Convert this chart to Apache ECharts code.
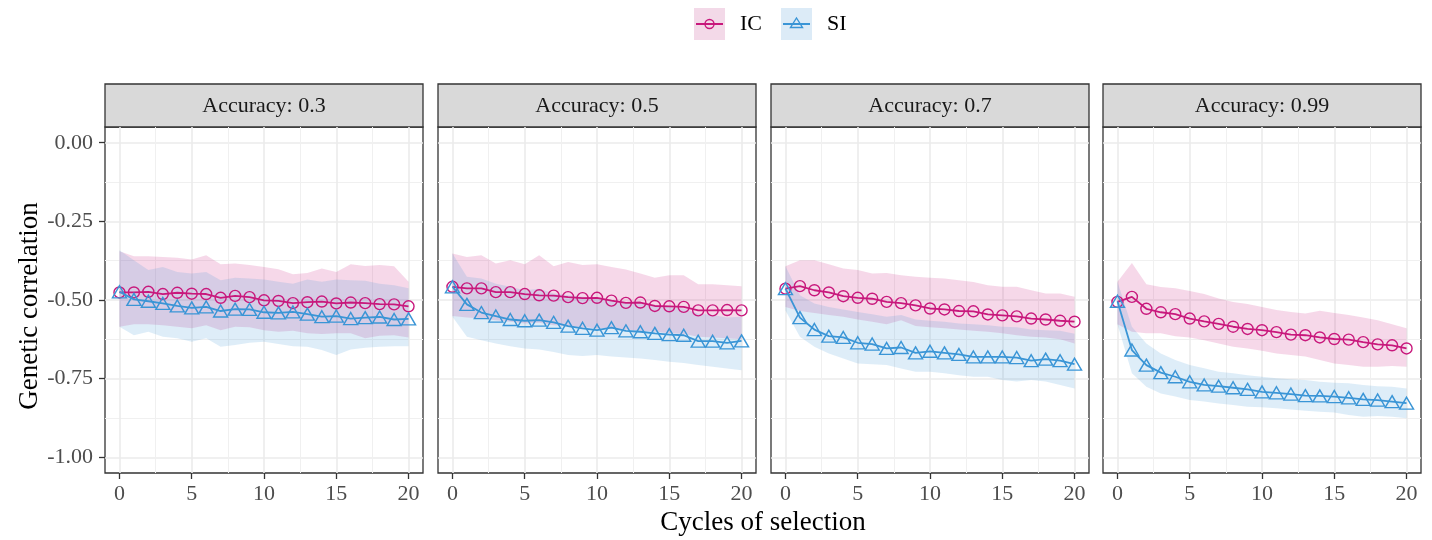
<!DOCTYPE html>
<html>
<head>
    <meta charset="utf-8">
    <title>Genetic correlation</title>
    <script src="https://cdn.jsdelivr.net/npm/echarts@6/dist/echarts.min.js"></script>
    <style>
        html, body { margin: 0; padding: 0; background: #fff; }
        #chart { width: 1432px; height: 540px; }
    </style>
</head>
<body>
<div id="chart"></div>
<script>
// cycles of selection
var cycles = [0,1,2,3,4,5,6,7,8,9,10,11,12,13,14,15,16,17,18,19,20];
var xTicks = [0, 5, 10, 15, 20];
var xMinor = [2.5, 7.5, 12.5, 17.5];
var yTicks = [-1, -0.75, -0.5, -0.25, 0];
var yMinor = [-0.875, -0.625, -0.375, -0.125];
var panelLabels = ['Accuracy: 0.3', 'Accuracy: 0.5', 'Accuracy: 0.7', 'Accuracy: 0.99'];

// accuracy 0.3
var ic03 = [-0.476,-0.476,-0.474,-0.481,-0.477,-0.480,-0.481,-0.493,-0.487,-0.491,-0.501,-0.503,-0.510,-0.507,-0.505,-0.511,-0.508,-0.510,-0.513,-0.514,-0.520];
var si03 = [-0.474,-0.498,-0.504,-0.511,-0.519,-0.525,-0.522,-0.535,-0.529,-0.530,-0.539,-0.541,-0.538,-0.545,-0.553,-0.551,-0.559,-0.556,-0.554,-0.562,-0.560];
var ic03Hi = [-0.345,-0.361,-0.361,-0.363,-0.366,-0.371,-0.358,-0.386,-0.384,-0.389,-0.395,-0.402,-0.418,-0.414,-0.400,-0.411,-0.386,-0.392,-0.389,-0.393,-0.442];
var ic03Lo = [-0.585,-0.577,-0.577,-0.580,-0.585,-0.590,-0.580,-0.596,-0.585,-0.587,-0.596,-0.601,-0.598,-0.606,-0.608,-0.606,-0.606,-0.622,-0.614,-0.612,-0.619];
var si03Hi = [-0.342,-0.374,-0.405,-0.395,-0.411,-0.416,-0.411,-0.437,-0.429,-0.432,-0.435,-0.442,-0.448,-0.435,-0.442,-0.435,-0.437,-0.439,-0.448,-0.453,-0.463];
var si03Lo = [-0.585,-0.612,-0.601,-0.617,-0.622,-0.633,-0.622,-0.649,-0.643,-0.636,-0.633,-0.640,-0.647,-0.649,-0.659,-0.675,-0.657,-0.652,-0.649,-0.647,-0.647];

// accuracy 0.5
var ic05 = [-0.458,-0.463,-0.463,-0.475,-0.475,-0.481,-0.485,-0.486,-0.491,-0.494,-0.493,-0.502,-0.509,-0.508,-0.519,-0.520,-0.522,-0.533,-0.533,-0.532,-0.533];
var si05 = [-0.458,-0.514,-0.540,-0.551,-0.562,-0.566,-0.564,-0.571,-0.583,-0.590,-0.596,-0.588,-0.598,-0.601,-0.606,-0.610,-0.612,-0.631,-0.631,-0.636,-0.630];
var ic05Hi = [-0.352,-0.363,-0.358,-0.384,-0.374,-0.386,-0.358,-0.393,-0.379,-0.389,-0.386,-0.395,-0.403,-0.416,-0.429,-0.421,-0.421,-0.450,-0.450,-0.453,-0.456];
var ic05Lo = [-0.551,-0.556,-0.559,-0.564,-0.569,-0.575,-0.572,-0.580,-0.583,-0.587,-0.590,-0.588,-0.594,-0.598,-0.601,-0.606,-0.608,-0.617,-0.619,-0.622,-0.625];
var si05Hi = [-0.352,-0.426,-0.432,-0.448,-0.458,-0.469,-0.464,-0.479,-0.485,-0.490,-0.495,-0.501,-0.506,-0.511,-0.516,-0.522,-0.527,-0.543,-0.548,-0.556,-0.553];
var si05Lo = [-0.553,-0.617,-0.628,-0.638,-0.647,-0.654,-0.657,-0.665,-0.675,-0.678,-0.675,-0.680,-0.683,-0.686,-0.691,-0.696,-0.700,-0.707,-0.712,-0.718,-0.723];

// accuracy 0.7
var ic07 = [-0.464,-0.456,-0.469,-0.476,-0.488,-0.493,-0.496,-0.506,-0.510,-0.517,-0.527,-0.530,-0.535,-0.536,-0.546,-0.549,-0.552,-0.559,-0.562,-0.566,-0.569];
var si07 = [-0.464,-0.556,-0.594,-0.615,-0.619,-0.636,-0.640,-0.654,-0.651,-0.668,-0.663,-0.668,-0.673,-0.681,-0.681,-0.681,-0.683,-0.693,-0.688,-0.693,-0.704];
var ic07Hi = [-0.393,-0.374,-0.374,-0.386,-0.400,-0.405,-0.416,-0.414,-0.421,-0.426,-0.429,-0.432,-0.437,-0.443,-0.453,-0.458,-0.458,-0.469,-0.479,-0.479,-0.490];
var ic07Lo = [-0.522,-0.535,-0.541,-0.548,-0.553,-0.562,-0.569,-0.577,-0.564,-0.583,-0.587,-0.590,-0.594,-0.598,-0.601,-0.606,-0.612,-0.617,-0.619,-0.625,-0.638];
var si07Hi = [-0.393,-0.485,-0.511,-0.522,-0.530,-0.538,-0.545,-0.553,-0.548,-0.562,-0.566,-0.569,-0.575,-0.577,-0.580,-0.585,-0.587,-0.594,-0.596,-0.598,-0.607];
var si07Lo = [-0.533,-0.617,-0.649,-0.670,-0.686,-0.702,-0.704,-0.707,-0.718,-0.728,-0.728,-0.733,-0.739,-0.744,-0.744,-0.754,-0.759,-0.754,-0.759,-0.770,-0.781];

// accuracy 0.99
var ic099 = [-0.506,-0.490,-0.528,-0.539,-0.545,-0.559,-0.568,-0.576,-0.585,-0.592,-0.596,-0.602,-0.610,-0.612,-0.619,-0.624,-0.626,-0.634,-0.641,-0.644,-0.654];
var si099 = [-0.504,-0.659,-0.707,-0.731,-0.744,-0.760,-0.770,-0.774,-0.779,-0.784,-0.792,-0.795,-0.799,-0.804,-0.805,-0.807,-0.811,-0.816,-0.818,-0.823,-0.828];
var ic099Hi = [-0.442,-0.382,-0.450,-0.459,-0.463,-0.471,-0.481,-0.495,-0.506,-0.513,-0.522,-0.532,-0.538,-0.543,-0.534,-0.541,-0.548,-0.556,-0.564,-0.577,-0.590];
var ic099Lo = [-0.577,-0.601,-0.606,-0.606,-0.615,-0.619,-0.628,-0.638,-0.649,-0.654,-0.661,-0.670,-0.675,-0.680,-0.691,-0.702,-0.707,-0.712,-0.712,-0.710,-0.712];
var si099Hi = [-0.442,-0.585,-0.638,-0.670,-0.691,-0.707,-0.717,-0.728,-0.733,-0.739,-0.744,-0.749,-0.752,-0.754,-0.760,-0.763,-0.765,-0.770,-0.774,-0.776,-0.781];
var si099Lo = [-0.577,-0.733,-0.776,-0.797,-0.807,-0.818,-0.823,-0.829,-0.834,-0.839,-0.841,-0.844,-0.848,-0.852,-0.855,-0.858,-0.866,-0.871,-0.869,-0.871,-0.876];

var panels = [
    { ic: ic03, si: si03, icLo: ic03Lo, icHi: ic03Hi, siLo: si03Lo, siHi: si03Hi },
    { ic: ic05, si: si05, icLo: ic05Lo, icHi: ic05Hi, siLo: si05Lo, siHi: si05Hi },
    { ic: ic07, si: si07, icLo: ic07Lo, icHi: ic07Hi, siLo: si07Lo, siHi: si07Hi },
    { ic: ic099, si: si099, icLo: ic099Lo, icHi: ic099Hi, siLo: si099Lo, siHi: si099Hi }
];

var IC_COLOR = '#c8187c';
var SI_COLOR = '#3a95d6';
var IC_FILL = 'rgba(200,24,124,0.17)';
var SI_FILL = 'rgba(58,149,214,0.17)';
var FONT = 'Liberation Serif';

var lefts = [105, 438, 771, 1103];
var panelW = 318;
var top0 = 127, panelH = 346;

function pairs(ys) {
    return cycles.map(function (c, i) { return [c, ys[i]]; });
}

// ribbon drawn as one polygon through the axis scales
function ribbon(lo, hi, fill) {
    return function (params, api) {
        if (params.dataIndex !== 0) return null;
        var pts = [];
        for (var i = 0; i < cycles.length; i++) pts.push(api.coord([cycles[i], hi[i]]));
        for (var j = cycles.length - 1; j >= 0; j--) pts.push(api.coord([cycles[j], lo[j]]));
        return { type: 'polygon', shape: { points: pts }, style: { fill: fill } };
    };
}

var grids = [], xAxes = [], yAxes = [], series = [], graphics = [];

panels.forEach(function (p, k) {
    grids.push({
        left: lefts[k], top: top0, width: panelW, height: panelH,
        show: true, borderColor: '#333', borderWidth: 1.3, backgroundColor: '#fff'
    });
    // major x
    xAxes.push({
        type: 'value', gridIndex: k, min: -1, max: 21, position: 'bottom',
        axisLine: { show: false, onZero: false },
        axisTick: { show: true, length: 6, customValues: xTicks, lineStyle: { color: '#333', width: 1.3 } },
        axisLabel: { show: true, customValues: xTicks, color: '#4d4d4d', fontSize: 22, fontFamily: FONT, margin: 10 },
        splitLine: { show: true, lineStyle: { color: '#ebebeb', width: 1.6 } }
    });
    // minor x
    xAxes.push({
        type: 'value', gridIndex: k, min: -1, max: 21, position: 'top',
        axisLine: { show: false, onZero: false },
        axisTick: { show: false, customValues: xMinor },
        axisLabel: { show: false, customValues: xMinor },
        splitLine: { show: true, lineStyle: { color: '#f0f0f0', width: 1 } }
    });
    yAxes.push({
        type: 'value', gridIndex: k, min: -1.05, max: 0.05, position: 'left',
        axisLine: { show: false, onZero: false },
        axisTick: { show: k === 0, length: 6, customValues: yTicks, lineStyle: { color: '#333', width: 1.3 } },
        axisLabel: {
            show: k === 0, customValues: yTicks, color: '#4d4d4d', fontSize: 22, fontFamily: FONT, margin: 12,
            formatter: function (v) { return v.toFixed(2); }
        },
        splitLine: { show: true, lineStyle: { color: '#ebebeb', width: 1.6 } }
    });
    yAxes.push({
        type: 'value', gridIndex: k, min: -1.05, max: 0.05, position: 'right',
        axisLine: { show: false, onZero: false },
        axisTick: { show: false, customValues: yMinor },
        axisLabel: { show: false, customValues: yMinor },
        splitLine: { show: true, lineStyle: { color: '#f0f0f0', width: 1 } }
    });

    var xi = 2 * k, yi = 2 * k;
    series.push({
        type: 'custom', name: 'IC band', xAxisIndex: xi, yAxisIndex: yi,
        data: pairs(p.ic), renderItem: ribbon(p.icLo, p.icHi, IC_FILL), silent: true, z: 1
    });
    series.push({
        type: 'custom', name: 'SI band', xAxisIndex: xi, yAxisIndex: yi,
        data: pairs(p.si), renderItem: ribbon(p.siLo, p.siHi, SI_FILL), silent: true, z: 1
    });
    series.push({
        type: 'line', name: 'IC', xAxisIndex: xi, yAxisIndex: yi, data: pairs(p.ic),
        symbol: 'circle', symbolSize: 11,
        lineStyle: { color: IC_COLOR, width: 1.8 },
        itemStyle: { color: 'rgba(0,0,0,0)', borderColor: IC_COLOR, borderWidth: 1.4 },
        animation: false, z: 3
    });
    series.push({
        type: 'line', name: 'SI', xAxisIndex: xi, yAxisIndex: yi, data: pairs(p.si),
        symbol: 'triangle', symbolSize: [14, 12],
        lineStyle: { color: SI_COLOR, width: 1.8 },
        itemStyle: { color: 'rgba(0,0,0,0)', borderColor: SI_COLOR, borderWidth: 1.4 },
        animation: false, z: 4
    });

    // facet strip
    graphics.push({
        type: 'rect', shape: { x: lefts[k], y: 84, width: panelW, height: top0 - 84 },
        style: { fill: '#d9d9d9', stroke: '#333', lineWidth: 1.3 }
    });
    graphics.push({
        type: 'text', x: lefts[k] + panelW / 2, y: 106,
        style: { text: panelLabels[k], fill: '#1a1a1a', font: '22px "Liberation Serif"',
                 textAlign: 'center', textVerticalAlign: 'middle', align: 'center', verticalAlign: 'middle' }
    });
});

// axis titles
graphics.push({
    type: 'text', x: 763, y: 523,
    style: { text: 'Cycles of selection', fill: '#000', font: '27px "Liberation Serif"',
             textAlign: 'center', textVerticalAlign: 'middle', align: 'center', verticalAlign: 'middle' }
});
graphics.push({
    type: 'text', x: 30, y: 306, rotation: Math.PI / 2,
    style: { text: 'Genetic correlation', fill: '#000', font: '27px "Liberation Serif"',
             textAlign: 'center', textVerticalAlign: 'middle', align: 'center', verticalAlign: 'middle' }
});

// legend keys
graphics.push({ type: 'rect', shape: { x: 694, y: 8, width: 31, height: 32 }, style: { fill: '#f3d9e8' } });
graphics.push({ type: 'line', shape: { x1: 696, y1: 24, x2: 723, y2: 24 }, style: { stroke: IC_COLOR, lineWidth: 2 } });
graphics.push({ type: 'circle', shape: { cx: 709.5, cy: 24, r: 4.5 }, style: { fill: 'none', stroke: IC_COLOR, lineWidth: 1.4 } });
graphics.push({ type: 'text', x: 740, y: 24, style: { text: 'IC', fill: '#000', font: '22px "Liberation Serif"', textVerticalAlign: 'middle', verticalAlign: 'middle' } });
graphics.push({ type: 'rect', shape: { x: 781, y: 8, width: 31, height: 32 }, style: { fill: '#dcebf7' } });
graphics.push({ type: 'line', shape: { x1: 783, y1: 24, x2: 810, y2: 24 }, style: { stroke: SI_COLOR, lineWidth: 2 } });
graphics.push({ type: 'polygon', shape: { points: [[796.5, 18], [802.5, 27.5], [790.5, 27.5]] }, style: { fill: 'none', stroke: SI_COLOR, lineWidth: 1.4 } });
graphics.push({ type: 'text', x: 827, y: 24, style: { text: 'SI', fill: '#000', font: '22px "Liberation Serif"', textVerticalAlign: 'middle', verticalAlign: 'middle' } });

var chart = echarts.init(document.getElementById('chart'));
chart.setOption({
    backgroundColor: '#fff',
    animation: false,
    grid: grids,
    xAxis: xAxes,
    yAxis: yAxes,
    series: series,
    graphic: graphics
});
</script>
</body>
</html>
